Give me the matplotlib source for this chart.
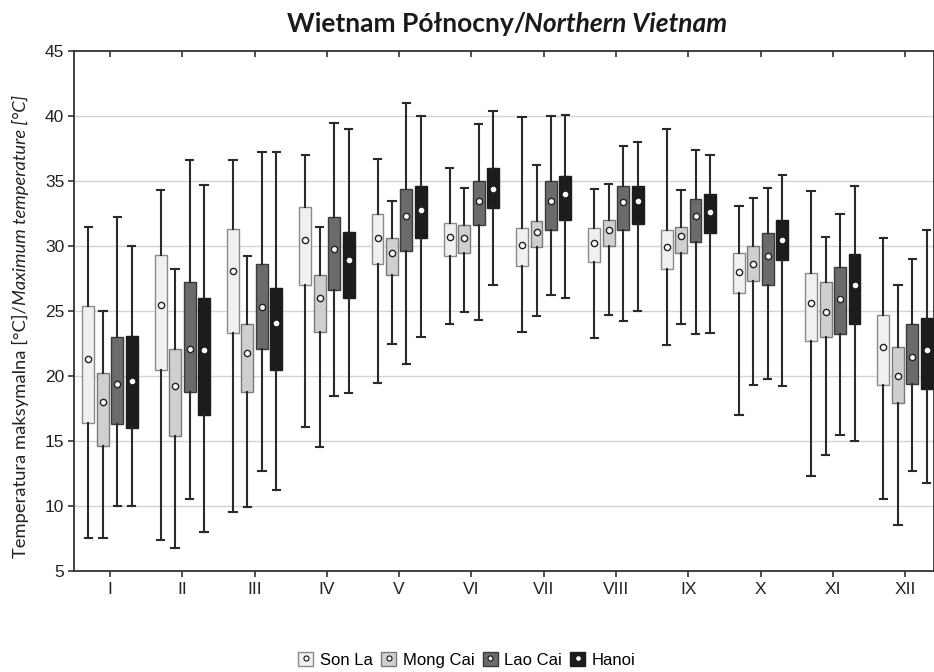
import matplotlib
matplotlib.use("Agg")
import matplotlib.pyplot as plt
from matplotlib.patches import Rectangle
from matplotlib.lines import Line2D
import numpy as np

months = ["I", "II", "III", "IV", "V", "VI", "VII", "VIII", "IX", "X", "XI", "XII"]
stations = ["Son La", "Mong Cai", "Lao Cai", "Hanoi"]

# whisker low, box bottom, mean, box top, whisker high (per month)
son_la_low  = [7.5, 7.4, 9.5, 16.1, 19.5, 24.0, 23.4, 22.9, 22.4, 17.0, 12.3, 10.5]
son_la_q1   = [16.4, 20.5, 23.3, 27.0, 28.6, 29.2, 28.5, 28.8, 28.2, 26.4, 22.7, 19.3]
son_la_mean = [21.3, 25.5, 28.1, 30.5, 30.6, 30.7, 30.1, 30.2, 29.9, 28.0, 25.6, 22.2]
son_la_q3   = [25.4, 29.3, 31.3, 33.0, 32.5, 31.8, 31.4, 31.4, 31.2, 29.5, 27.9, 24.7]
son_la_high = [31.5, 34.3, 36.6, 37.0, 36.7, 36.0, 39.9, 34.4, 39.0, 33.1, 34.2, 30.6]

mong_cai_low  = [7.5, 6.8, 9.9, 14.5, 22.5, 24.9, 24.6, 24.7, 24.0, 19.3, 13.9, 8.5]
mong_cai_q1   = [14.6, 15.4, 18.8, 23.4, 27.8, 29.5, 29.9, 30.0, 29.5, 27.3, 23.0, 17.9]
mong_cai_mean = [18.0, 19.2, 21.8, 26.0, 29.5, 30.6, 31.1, 31.2, 30.8, 28.6, 24.9, 20.0]
mong_cai_q3   = [20.2, 22.1, 24.0, 27.8, 30.6, 31.6, 31.9, 32.0, 31.5, 30.0, 27.2, 22.2]
mong_cai_high = [25.0, 28.2, 29.2, 31.5, 33.5, 34.5, 36.2, 34.8, 34.3, 33.7, 30.7, 27.0]

lao_cai_low  = [10.0, 10.5, 12.7, 18.5, 20.9, 24.3, 26.2, 24.2, 23.2, 19.8, 15.5, 12.7]
lao_cai_q1   = [16.3, 18.8, 22.1, 26.6, 29.6, 31.6, 31.2, 31.2, 30.3, 27.0, 23.2, 19.4]
lao_cai_mean = [19.4, 22.1, 25.3, 29.8, 32.3, 33.5, 33.5, 33.4, 32.3, 29.2, 25.9, 21.5]
lao_cai_q3   = [23.0, 27.2, 28.6, 32.2, 34.4, 35.0, 35.0, 34.6, 33.6, 31.0, 28.4, 24.0]
lao_cai_high = [32.2, 36.6, 37.2, 39.5, 41.0, 39.4, 40.0, 37.7, 37.4, 34.5, 32.5, 29.0]

hanoi_low  = [10.0, 8.0, 11.2, 18.7, 23.0, 27.0, 26.0, 25.0, 23.3, 19.2, 15.0, 11.8]
hanoi_q1   = [16.0, 17.0, 20.5, 26.0, 30.6, 32.9, 32.0, 31.7, 31.0, 28.9, 24.0, 19.0]
hanoi_mean = [19.6, 22.0, 24.1, 28.9, 32.8, 34.4, 34.0, 33.5, 32.6, 30.5, 27.0, 22.0]
hanoi_q3   = [23.1, 26.0, 26.8, 31.1, 34.6, 36.0, 35.4, 34.6, 34.0, 32.0, 29.4, 24.5]
hanoi_high = [30.0, 34.7, 37.2, 39.0, 40.0, 40.4, 40.1, 38.0, 37.0, 35.5, 34.6, 31.2]

series = [
    (son_la_low, son_la_q1, son_la_mean, son_la_q3, son_la_high),
    (mong_cai_low, mong_cai_q1, mong_cai_mean, mong_cai_q3, mong_cai_high),
    (lao_cai_low, lao_cai_q1, lao_cai_mean, lao_cai_q3, lao_cai_high),
    (hanoi_low, hanoi_q1, hanoi_mean, hanoi_q3, hanoi_high),
]

face_colors = ["#f0f0f0", "#cfcfcf", "#6b6b6b", "#1c1c1c"]
edge_colors = ["#8a8a8a", "#7a7a7a", "#3a3a3a", "#1c1c1c"]
mean_face = ["white", "white", "white", "white"]
mean_edge = ["#222222", "#222222", "#222222", "white"]
mean_size = [4.5, 4.5, 4.5, 3.0]
offsets = [-0.30, -0.10, 0.10, 0.30]
box_w = 0.165

fig = plt.figure(figsize=(9.34, 6.72), dpi=100)
ax = fig.add_axes([0.0792, 0.1503, 0.9208, 0.7738])

x_base = np.arange(1, len(months) + 1)
for si, (lo, q1, mn, q3, hi) in enumerate(series):
    stats = []
    for i in range(len(months)):
        stats.append(dict(whislo=lo[i], q1=q1[i], med=mn[i], mean=mn[i],
                          q3=q3[i], whishi=hi[i], fliers=[]))
    ax.bxp(stats, positions=x_base + offsets[si], widths=box_w,
           showmeans=True, showfliers=False, patch_artist=True,
           boxprops=dict(facecolor=face_colors[si], edgecolor=edge_colors[si], linewidth=1.0),
           whiskerprops=dict(color="#2a2a2a", linewidth=1.5),
           capprops=dict(color="#2a2a2a", linewidth=1.5),
           capwidths=box_w * 0.62,
           medianprops=dict(visible=False),
           meanprops=dict(marker="o", markerfacecolor=mean_face[si],
                          markeredgecolor=mean_edge[si], markersize=mean_size[si],
                          markeredgewidth=1.0, linestyle="none"),
           manage_ticks=False, zorder=3)

ax.set_xlim(0.5, 12.4)
ax.set_ylim(5, 45)
ax.set_yticks(np.arange(5, 46, 5))
ax.set_xticks(x_base)
ax.set_xticklabels(months)
for y in range(10, 45, 5):
    ax.axhline(y, color="#d4d4d4", linewidth=1.0, zorder=0)

tick_font = "Liberation Sans"
for lab in ax.get_xticklabels() + ax.get_yticklabels():
    lab.set_fontfamily(tick_font)
    lab.set_fontsize(12.5)
    lab.set_color("#222222")

ax.tick_params(axis="x", which="both", direction="out", length=4, width=1.2,
               top=True, color="#333333", pad=4)
ax.tick_params(axis="y", direction="out", length=4, width=1.2, color="#333333", pad=3)
# top ticks inward
for t in ax.xaxis.get_major_ticks():
    t.tick2line.set_marker(matplotlib.markers.TICKDOWN)
    t.tick2line.set_markersize(4)
for sp in ax.spines.values():
    sp.set_color("#333333")
    sp.set_linewidth(1.3)

# title: bold regular + bold italic
title_font = "Lato"
split_x = 0.563
fig.text(split_x, 0.964, "Wietnam Północny/", ha="right", va="center",
         fontsize=19, fontweight="bold", family=title_font, color="#1a1a1a")
fig.text(split_x - 0.002, 0.964, "Northern Vietnam", ha="left", va="center",
         fontsize=19, fontweight="bold", style="italic", family=title_font, color="#1a1a1a")

# y label
split_y = 0.546
fig.text(0.022, split_y, "Temperatura maksymalna [°C]/", rotation=90, ha="center", va="top",
         fontsize=13.2, family=title_font, color="#222222")
fig.text(0.022, split_y, "Maximum temperature [°C]", rotation=90, ha="center", va="bottom",
         fontsize=13.2, family=title_font, style="italic", color="#222222")

# legend
handles = []
for si in range(4):
    patch = Rectangle((0, 0), 1, 1, facecolor=face_colors[si], edgecolor=edge_colors[si], linewidth=1.0)
    dot = Line2D([], [], marker="o", linestyle="none", markerfacecolor=mean_face[si],
                 markeredgecolor=mean_edge[si], markersize=mean_size[si] * 0.8, markeredgewidth=0.9)
    handles.append((patch, dot))
leg = fig.legend(handles, stations, loc="center", bbox_to_anchor=(0.5, 0.018),
                 ncol=4, frameon=False, handlelength=0.9, handleheight=0.9,
                 handletextpad=0.4, columnspacing=0.5,
                 prop=dict(family="Liberation Sans", size=12))

fig.savefig("out.png", dpi=100)
